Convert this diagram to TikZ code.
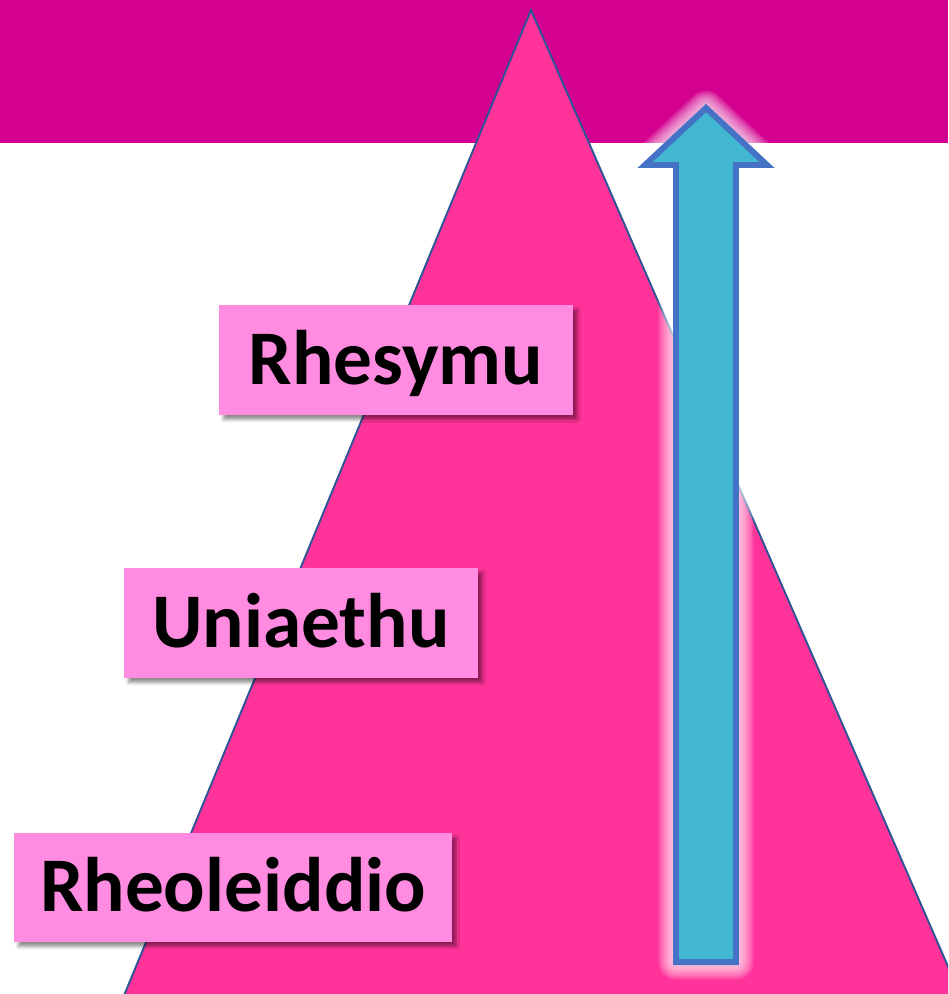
\documentclass[tikz,border=0pt]{standalone}
\usepackage{fontspec}
\setmainfont{Carlito}
\usetikzlibrary{shadows.blur}
\definecolor{bandmag}{HTML}{D4008F}
\definecolor{pyrpink}{HTML}{FF3399}
\definecolor{pyredge}{HTML}{2F5597}
\definecolor{labelpink}{HTML}{FF8CE1}
\definecolor{arrowcyan}{HTML}{41B7D1}
\definecolor{arrowedge}{HTML}{4472C4}
\tikzset{
  level/.style={fill=labelpink, minimum height=2.2cm, text height=0.96cm, text depth=0pt,
    inner sep=0pt, font=\fontsize{44}{50}\selectfont\bfseries,
    blur shadow={shadow xshift=2.5pt, shadow yshift=-2.5pt, shadow blur steps=5, shadow opacity=45}},
}
\begin{document}
\begin{tikzpicture}[x=0.02cm,y=-0.02cm]
\useasboundingbox (0,0) rectangle (948,994);
\clip (0,0) rectangle (948,994);
\coordinate (top) at (531,10);
\coordinate (bl)  at (118,1010);
\coordinate (br)  at (967,1010);
\coordinate (tip) at (706,108);
\coordinate (hl)  at (645,165);
\coordinate (hr)  at (767,165);
\coordinate (sl)  at (676,165);
\coordinate (sr)  at (736,165);
\coordinate (sbl) at (676,962);
\coordinate (sbr) at (736,962);

\fill[bandmag] (0,0) rectangle (948,143);
\draw[pyredge,line width=1.1pt,fill=pyrpink] (top) -- (br) -- (bl) -- cycle;

% glow round the arrow
\foreach \w in {20,18,...,4}
  \draw[white,opacity=0.12,line width=\w pt,line join=round] (tip) -- (hr) -- (sr) -- (sbr) -- (sbl) -- (sl) -- (hl) -- cycle;
\draw[arrowedge,line width=3.4pt,fill=arrowcyan] (tip) -- (hr) -- (sr) -- (sbr) -- (sbl) -- (sl) -- (hl) -- cycle;

\node[level,minimum width=7.08cm] (rhesymu) at (396,360) {Rhesymu};
\node[level,minimum width=7.08cm] (uniaethu) at (301,623) {Uniaethu};
\node[level,minimum width=8.76cm,minimum height=2.18cm] (rheoleiddio) at (233,887.5) {Rheoleiddio};
\end{tikzpicture}
\end{document}
